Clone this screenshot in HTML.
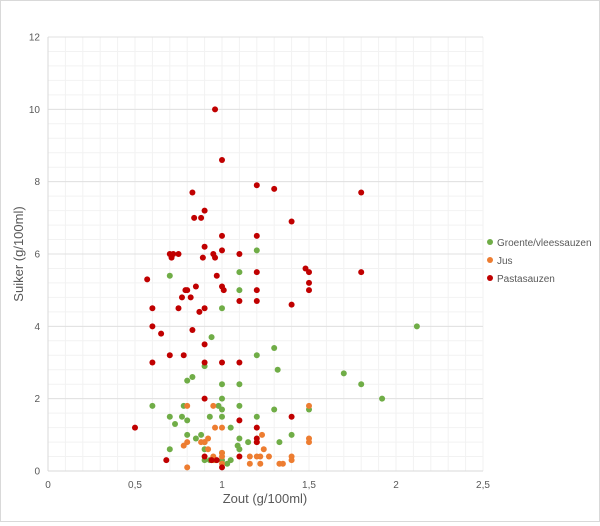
<!DOCTYPE html>
<html><head><meta charset="utf-8"><style>
body{margin:0;background:#fff;font-family:"Liberation Sans",sans-serif}
#wrap{width:598px;height:520px;border:1px solid #d9d9d9;position:relative}
</style></head><body>
<div id="wrap">
<svg id="chart" width="598" height="520"></svg>
</div>
<script>
const xTicks=[0,0.5,1,1.5,2,2.5];
const xTickLabels=["0","0,5","1","1,5","2","2,5"];
const yTicks=[0,2,4,6,8,10,12];
const yTickLabels=["0","2","4","6","8","10","12"];
const seriesNames=["Groente/vleessauzen","Jus","Pastasauzen"];
const groenteX=[2.12,1.2,0.7,1.1,1.1,1.0,0.94,1.3,1.2,1.32,1.7,1.8,1.92,0.83,0.8,0.9,1.0,1.1,1.0,1.1,0.6,0.78,0.98,1.0,1.3,1.5,0.7,0.77,0.93,1.0,1.2,0.73,0.8,0.8,0.85,0.88,1.05,1.1,1.15,1.4,1.33,0.7,0.9,0.9,1.0,1.09,1.1,0.9,0.93,0.96,1.03,1.0,1.05];
const groenteY=[4.0,6.1,5.4,5.5,5.0,4.5,3.7,3.4,3.2,2.8,2.7,2.4,2.0,2.6,2.5,2.9,2.4,2.4,2.0,1.8,1.8,1.8,1.8,1.7,1.7,1.7,1.5,1.5,1.5,1.5,1.5,1.3,1.4,1.0,0.9,1.0,1.2,0.9,0.8,1.0,0.8,0.6,0.8,0.6,0.5,0.7,0.6,0.3,0.3,0.3,0.2,0.3,0.3];
const jusX=[0.8,0.95,1.5,0.96,1.0,1.23,1.5,1.5,0.78,0.8,0.9,0.92,0.88,1.2,0.92,1.24,1.0,1.0,1.16,1.2,1.22,1.27,1.4,1.4,0.95,0.95,1.16,1.22,1.33,1.35,0.8,1.0];
const jusY=[1.8,1.8,1.8,1.2,1.2,1.0,0.9,0.8,0.7,0.8,0.8,0.9,0.8,0.8,0.6,0.6,0.5,0.4,0.4,0.4,0.4,0.4,0.4,0.3,0.4,0.3,0.2,0.2,0.2,0.2,0.1,0.2];
const pastaX=[0.96,1.0,0.83,1.2,1.3,1.8,0.84,0.88,0.9,1.4,1.0,1.2,0.9,1.0,1.1,0.7,0.71,0.72,0.75,0.95,0.96,0.89,1.48,1.5,1.2,1.8,0.97,1.5,0.57,0.85,1.0,1.01,0.79,0.8,1.2,1.5,0.77,0.82,0.75,0.6,0.9,1.1,1.2,1.4,0.87,0.6,0.65,0.83,0.9,0.78,0.7,0.6,0.9,1.0,1.1,0.9,1.1,0.5,1.2,1.2,1.4,1.0,0.68,0.97,0.94,1.1,1.2,0.9];
const pastaY=[10,8.6,7.7,7.9,7.8,7.7,7.0,7.0,7.2,6.9,6.5,6.5,6.2,6.1,6.0,6.0,5.9,6.0,6.0,6.0,5.9,5.9,5.6,5.5,5.5,5.5,5.4,5.2,5.3,5.1,5.1,5.0,5.0,5.0,5.0,5.0,4.8,4.8,4.5,4.5,4.5,4.7,4.7,4.6,4.4,4.0,3.8,3.9,3.5,3.2,3.2,3.0,3.0,3.0,3.0,2.0,1.4,1.2,1.2,0.9,1.5,0.1,0.3,0.3,0.3,0.4,0.8,0.4];
const colors=["#70ad47","#ed7d31","#c00000"];
const NS="http://www.w3.org/2000/svg";
const svg=document.getElementById('chart');
const X0=47,X1=482,Y0=470,Y1=36;
const xs=v=>X0+(v/2.5)*(X1-X0);
const ys=v=>Y0-(v/12)*(Y0-Y1);
function el(t,a){const e=document.createElementNS(NS,t);for(const k in a)e.setAttribute(k,a[k]);svg.appendChild(e);return e;}
for(let i=1;i<=25;i++){const g=el('line',{x1:xs(i*0.1),x2:xs(i*0.1),y1:Y1,y2:Y0,stroke:'#f2f2f2'});

}
for(let i=1;i<=30;i++){const g=el('line',{x1:X0,x2:X1,y1:ys(i*0.4),y2:ys(i*0.4),stroke:'#f2f2f2'});

}
yTicks.forEach((t,i)=>{
 if(t>0){const g=el('line',{x1:X0,x2:X1,y1:ys(t),y2:ys(t),stroke:'#e0e0e0'});
 
 }
 const tx=el('text',{x:X0-8,y:ys(t)+3.5,'text-anchor':'end','font-size':'10',fill:'#595959'});tx.textContent=yTickLabels[i];
 
 
});
xTicks.forEach((t,i)=>{
 const tx=el('text',{x:xs(t),y:Y0+17,'text-anchor':'middle','font-size':'10',fill:'#595959'});tx.textContent=xTickLabels[i];
 
 
});
const ax=el('line',{x1:X0,x2:X1,y1:Y0,y2:Y0,stroke:'#d9d9d9'});


const ay=el('line',{x1:X0,x2:X0,y1:Y1,y2:Y0,stroke:'#d9d9d9'});


const series=[[groenteX,groenteY],[jusX,jusY],[pastaX,pastaY]];
series.forEach((s,k)=>{s[0].forEach((x,i)=>{
 const c=el('circle',{cx:xs(x),cy:ys(s[1][i]),r:3,fill:colors[k]});
 
 
});});
seriesNames.forEach((n,k)=>{
 const y=241+k*18;
 const c=el('circle',{cx:489,cy:y,r:3,fill:colors[k]});
 
 
 const t=el('text',{x:496,y:y+4,'font-size':'10',fill:'#595959'});t.textContent=n;
 
 
});
const xt=el('text',{x:264,y:502,'text-anchor':'middle','font-size':'13',fill:'#595959'});xt.textContent='Zout (g/100ml)';


const yt=el('text',{x:0,y:0,'text-anchor':'middle','font-size':'13',fill:'#595959',transform:'translate(22,253) rotate(-90)'});yt.textContent='Suiker (g/100ml)';


</script>
</body></html>
